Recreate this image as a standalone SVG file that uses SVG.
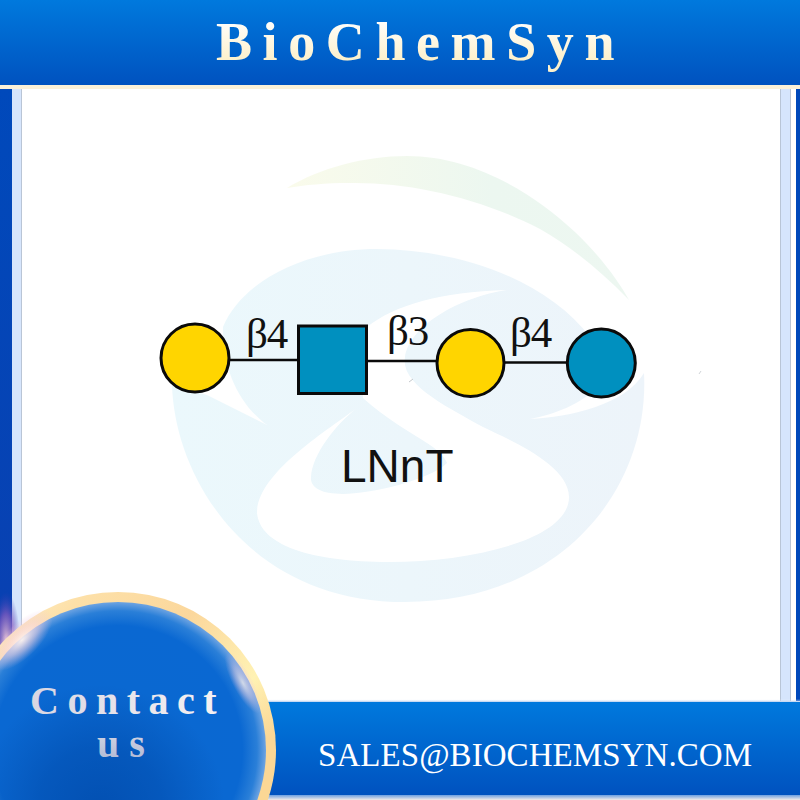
<svg xmlns="http://www.w3.org/2000/svg" width="800" height="800" viewBox="0 0 800 800">
<style>
.bond{stroke:#0a0a0a;stroke-width:2.6;fill:none}
.sym{stroke:#0a0a0a;stroke-width:3}
.gal{fill:#ffd500}
.glc{fill:#0090bf}
.link{font-family:"Liberation Serif",serif;font-size:43px;letter-spacing:-1.2px;fill:#111}
.serif{font-family:"Liberation Serif",serif}
</style>
<defs>
<linearGradient id="bar" x1="0" y1="0" x2="0" y2="1"><stop offset="0" stop-color="#0079dd"/><stop offset="1" stop-color="#0052bf"/></linearGradient>
<linearGradient id="title" x1="0" y1="0" x2="0" y2="1"><stop offset="0.1" stop-color="#ffffff"/><stop offset="0.8" stop-color="#fdf1cc"/></linearGradient>
<linearGradient id="sideL" x1="0" y1="0" x2="0" y2="1"><stop offset="0" stop-color="#0049bb"/><stop offset="1" stop-color="#0a3fb0"/></linearGradient>
<linearGradient id="wb" x1="0" y1="0" x2="1" y2="0"><stop offset="0" stop-color="#ebf8fc"/><stop offset="1" stop-color="#edf4fa"/></linearGradient>
<linearGradient id="wg" x1="0" y1="0" x2="1" y2="0"><stop offset="0" stop-color="#fafbeb"/><stop offset="0.6" stop-color="#ecf7f0"/><stop offset="1" stop-color="#edf7f1"/></linearGradient>
<linearGradient id="ring" x1="0" y1="0" x2="1" y2="1"><stop offset="0" stop-color="#fff8d8"/><stop offset="0.2" stop-color="#fde0a8"/><stop offset="0.4" stop-color="#fbd79c"/><stop offset="0.6" stop-color="#fff2b4"/><stop offset="0.72" stop-color="#fbd795"/><stop offset="1" stop-color="#fbd795"/></linearGradient>
<radialGradient id="disc" cx="0.5" cy="0.5" r="0.5"><stop offset="0" stop-color="#0a68d0"/><stop offset="0.84" stop-color="#0a68d2"/><stop offset="0.94" stop-color="#2a7fd8"/><stop offset="1" stop-color="#6ea4e2"/></radialGradient>
<radialGradient id="discShade" gradientUnits="userSpaceOnUse" cx="100" cy="810" r="125"><stop offset="0" stop-color="#0048a8" stop-opacity="0.75"/><stop offset="0.5" stop-color="#0048a8" stop-opacity="0.5"/><stop offset="1" stop-color="#0048a8" stop-opacity="0"/></radialGradient>
<radialGradient id="glow"><stop offset="0" stop-color="#fff4ee" stop-opacity="0.95"/><stop offset="0.5" stop-color="#f8d4e2" stop-opacity="0.55"/><stop offset="1" stop-color="#e8c0e0" stop-opacity="0"/></radialGradient>
<radialGradient id="stripGlow"><stop offset="0" stop-color="#f4c8d8" stop-opacity="0.9"/><stop offset="0.55" stop-color="#8a5cc0" stop-opacity="0.7"/><stop offset="1" stop-color="#3a3cb4" stop-opacity="0"/></radialGradient>
<linearGradient id="contact" x1="0" y1="0" x2="1" y2="0"><stop offset="0" stop-color="#d8d6e2"/><stop offset="1" stop-color="#f7f2f3"/></linearGradient>
<linearGradient id="us" x1="0" y1="0" x2="0" y2="1"><stop offset="0.2" stop-color="#d6d7e4"/><stop offset="0.8" stop-color="#b4bcd6"/></linearGradient>
<linearGradient id="edge" x1="0" y1="0" x2="0" y2="1"><stop offset="0" stop-color="#ffffff" stop-opacity="0"/><stop offset="1" stop-color="#6d9fe0"/></linearGradient>
<linearGradient id="edgeB" x1="0" y1="0" x2="0" y2="1"><stop offset="0" stop-color="#6d9fe0"/><stop offset="1" stop-color="#f4ece8"/></linearGradient>
</defs>

<rect width="800" height="800" fill="#ffffff"/>

<g id="frame">
<rect x="0" y="89" width="12" height="620" fill="url(#sideL)"/>
<rect x="12" y="89" width="9" height="620" fill="#d6e5fc"/>
<rect x="21" y="89" width="1" height="620" fill="#b9c5d6"/>
<rect x="780" y="89" width="1" height="612" fill="#b9c5d6"/>
<rect x="781" y="89" width="9" height="612" fill="#d6e5fc"/>
<rect x="790" y="89" width="1" height="612" fill="#b9c5d6"/>
<rect x="796" y="89" width="4" height="612" fill="#0049bb"/>
<ellipse cx="6" cy="640" rx="14" ry="48" fill="url(#stripGlow)"/>
</g>

<g id="watermark">
<path d="M287,188 C320,168 365,156 407,156 C470,156 530,190 575,232 C600,256 618,280 629,300 C600,270 570,246 540,229 C480,198 410,182 350,183 C325,183 305,185 287,188 Z" fill="url(#wg)"/>
<path d="M267,425 C240,405 222,370 223,327 C240,285 300,249 377,249 C470,250 550,285 590,337 L600,385 C580,405 555,414 530,419 C570,417 625,405 644,373 C650,490 560,602 405,602 C250,602 175,480 172,385 L207,395 Z" fill="url(#wb)"/>
<path d="M507,290 C440,292 395,305 367,327 L360,360 L363,398 C385,418 410,432 430,445 C440,452 445,458 447,463 C430,480 370,494 343,494 C320,494 310,487 311,477 C312,455 335,425 357,408 C320,435 257,475 257,513 C260,545 310,562 390,562 C470,562 569,540 569,497 C569,465 510,440 483,427 C450,408 400,385 405,357 C410,325 460,297 507,290 Z" fill="#ffffff"/>
<path d="M409,382 L413,379" stroke="#c4c8cc" stroke-width="1" fill="none"/>
<path d="M699,374 L701,371" stroke="#d0d4d8" stroke-width="1" fill="none"/>
</g>

<g id="connectors">
<line class="bond" x1="228" y1="360" x2="299" y2="360"/>
<line class="bond" x1="366" y1="361" x2="437" y2="361"/>
<line class="bond" x1="504" y1="362.5" x2="568" y2="362.5"/>
</g>

<g id="node-gal-1"><circle class="sym gal" cx="195" cy="358" r="34"/></g>
<g id="node-glcnac"><rect class="sym glc" x="298.5" y="326" width="68" height="67.5"/></g>
<g id="node-gal-2"><circle class="sym gal" cx="470.5" cy="363" r="33.5"/></g>
<g id="node-glc"><circle class="sym glc" cx="601.3" cy="363" r="34"/></g>

<g id="labels">
<text class="link" x="246" y="348">β4</text>
<text class="link" x="387" y="345">β3</text>
<text class="link" x="510" y="347">β4</text>
<text x="341" y="482" font-family="'Liberation Sans',sans-serif" font-size="46" fill="#111">LNnT</text>
</g>

<g id="header">
<rect x="0" y="0" width="800" height="85" fill="url(#bar)"/>
<rect x="0" y="85" width="800" height="4" fill="#fbf1d8"/>
<text class="serif" x="216" y="60" font-size="54" font-weight="700" letter-spacing="10.6" fill="url(#title)">BioChemSyn</text>
</g>

<g id="footer">
<rect x="268" y="699" width="532" height="4" fill="url(#edge)"/>
<rect x="268" y="702" width="532" height="93" fill="url(#bar)"/>
<rect x="268" y="795" width="532" height="5" fill="url(#edgeB)"/>
<text class="serif" x="318" y="766" font-size="33" letter-spacing="0.06" fill="#ffffff">SALES@BIOCHEMSYN.COM</text>
</g>

<g id="contact-disc">
<circle cx="118" cy="750" r="158" fill="url(#ring)"/>
<circle cx="118" cy="750" r="148" fill="url(#disc)"/>
<circle cx="118" cy="750" r="148" fill="url(#discShade)"/>
<ellipse cx="22" cy="640" rx="17" ry="40" transform="rotate(45 22 640)" fill="url(#glow)"/>
<ellipse cx="243" cy="683" rx="10" ry="34" transform="rotate(-28 243 683)" fill="url(#glow)" opacity="0.8"/>
<text class="serif" x="30" y="714" font-size="40" font-weight="700" letter-spacing="8.5" fill="url(#contact)">Contact</text>
<text class="serif" x="97" y="757" font-size="40" font-weight="700" letter-spacing="10" fill="url(#us)">us</text>
</g>
</svg>
